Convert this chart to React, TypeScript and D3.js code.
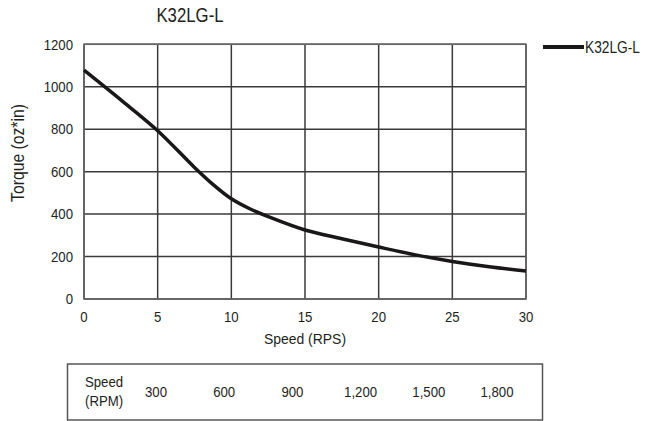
import React from "react";
import * as d3 from "d3";

const speedRps = [0, 2.5, 5, 7.5, 8.75, 10, 11.25, 12.5, 15, 17.5, 20, 22.5, 25, 27.5, 30];
const torque = [1078, 938, 793, 620, 540, 472, 425, 388, 325, 284, 245, 208, 177, 152, 132];
const xTicks = [0, 5, 10, 15, 20, 25, 30];
const yTicks = [0, 200, 400, 600, 800, 1000, 1200];
const rpmLabels = ["300", "600", "900", "1,200", "1,500", "1,800"];
const seriesName = "K32LG-L";

const FONT = "'Liberation Sans', Arial, sans-serif";
const INK = "#231f20";

type TProps = {
  x: number;
  y: number;
  size: number;
  sx?: number;
  anchor?: "start" | "middle" | "end";
  rotate?: number;
  children: React.ReactNode;
};

function T({ x, y, size, sx = 0.88, anchor = "start", rotate = 0, children }: TProps) {
  return (
    <text
      transform={`translate(${x},${y}) rotate(${rotate}) scale(${sx},1)`}
      fontSize={size}
      textAnchor={anchor}
      dy="0.35em"
      fill={INK}
    >
      {children}
    </text>
  );
}

export default function App() {
  const W = 660, H = 421;
  const x = d3.scaleLinear().domain([0, 30]).range([84, 526]);
  const y = d3.scaleLinear().domain([0, 1200]).range([299, 44.3]);
  const rpmX = d3.scalePoint<string>().domain(rpmLabels).range([156, 497]);
  const line = d3
    .line<number>()
    .x((_, i) => x(speedRps[i]))
    .y((d) => y(d))
    .curve(d3.curveCatmullRom.alpha(0.5));
  const gridColor = "#3a3a3a";
  return (
    <svg
      width={W}
      height={H}
      style={{ position: "absolute", left: 0, top: 0, background: "#fff" }}
      fontFamily={FONT}
    >
      <T x={190} y={15} size={20} sx={0.84} anchor="middle">
        {seriesName}
      </T>
      {yTicks.map((t) => (
        <g key={"y" + t}>
          <line x1={x(0)} x2={x(30)} y1={y(t)} y2={y(t)} stroke={gridColor} strokeWidth={1.5} />
          <T x={73} y={y(t)} size={15} anchor="end">
            {t}
          </T>
        </g>
      ))}
      {xTicks.map((t) => (
        <g key={"x" + t}>
          <line x1={x(t)} x2={x(t)} y1={y(0)} y2={y(1200)} stroke={gridColor} strokeWidth={1.5} />
          <T x={x(t)} y={317} size={15} anchor="middle">
            {t}
          </T>
        </g>
      ))}
      <rect x={x(0)} y={y(1200)} width={x(30) - x(0)} height={y(0) - y(1200)} fill="none" stroke="#666" strokeWidth={1.5} />
      <path d={line(torque) || ""} fill="none" stroke="#1a1718" strokeWidth={3.5} strokeLinejoin="round" />
      <T x={18} y={153} size={17.5} sx={0.9} rotate={-90} anchor="middle">
        Torque (oz*in)
      </T>
      <T x={305} y={339} size={15.5} sx={0.9} anchor="middle">
        Speed (RPS)
      </T>
      <line x1={543} x2={584} y1={47} y2={47} stroke="#1a1718" strokeWidth={4} />
      <T x={585} y={47} size={16} sx={0.86}>
        {seriesName}
      </T>
      <rect x={67.5} y={364} width={475} height={56} fill="none" stroke="#555" strokeWidth={1.5} />
      <T x={85} y={382} size={15}>Speed</T>
      <T x={85} y={401} size={15}>(RPM)</T>
      {rpmLabels.map((r) => (
        <T key={r} x={rpmX(r) ?? 0} y={392} size={15} anchor="middle">
          {r}
        </T>
      ))}
    </svg>
  );
}
